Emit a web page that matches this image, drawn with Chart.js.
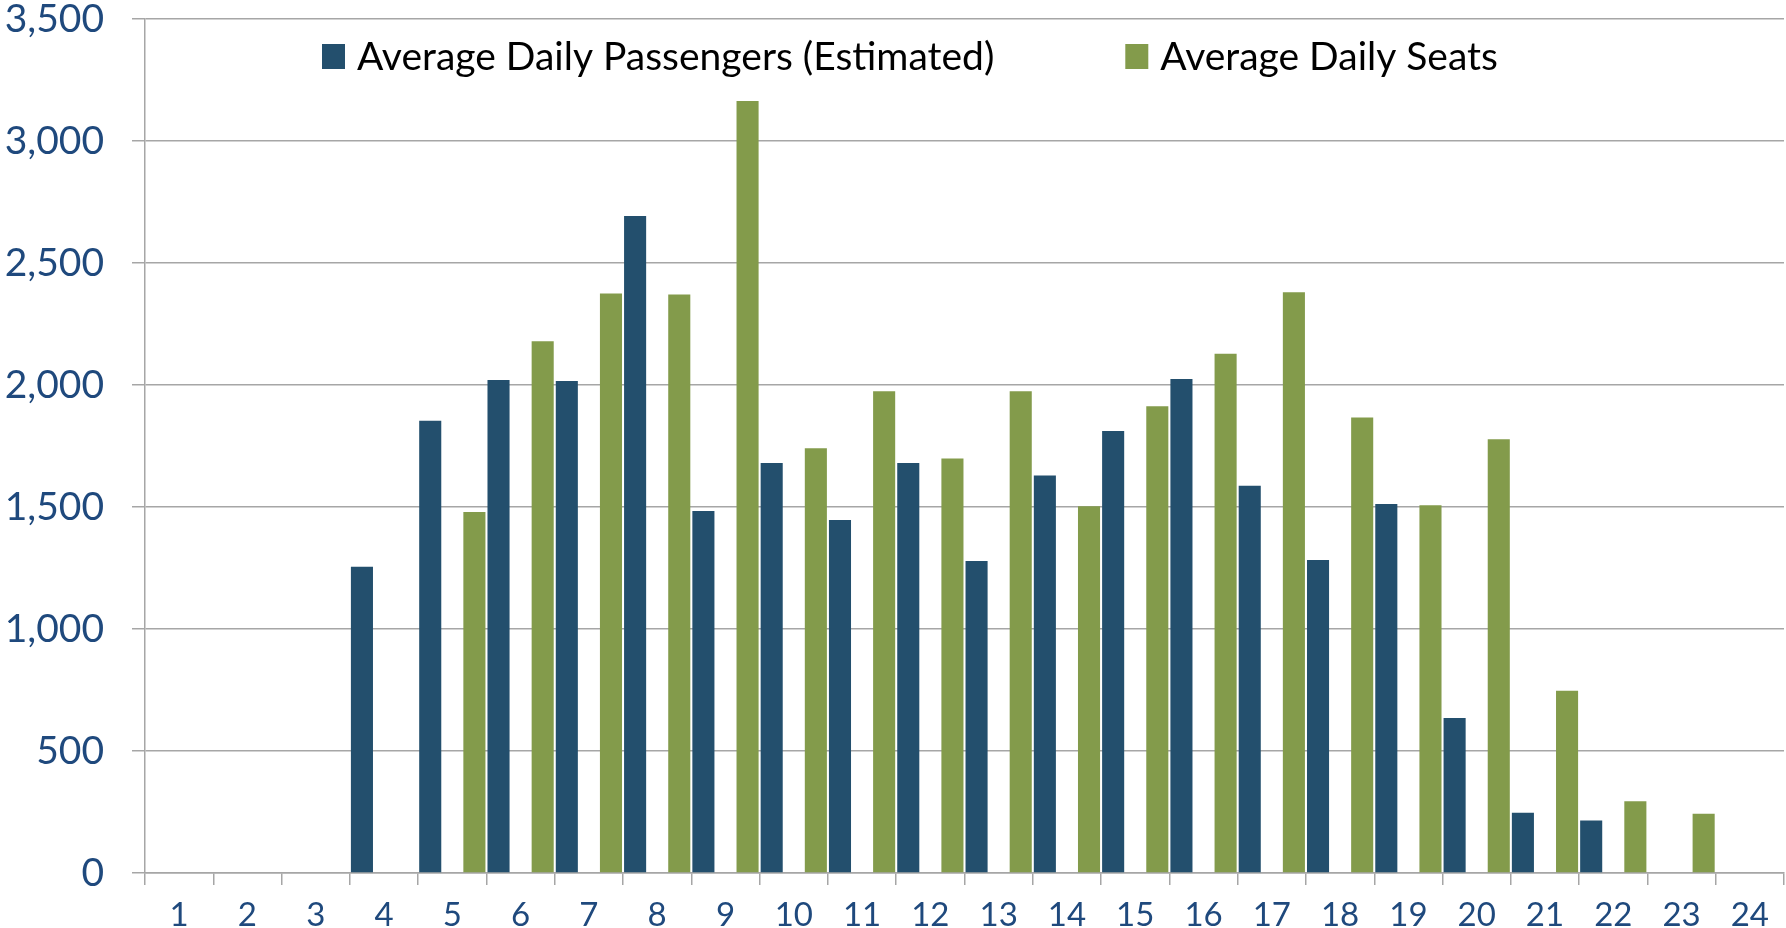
<!DOCTYPE html>
<html>
<head>
<meta charset="utf-8">
<script src="https://cdn.jsdelivr.net/npm/chart.js@4"></script>
<style>
  html, body { margin: 0; padding: 0; background: #fff; }
  #wrap { width: 1786px; height: 928px; position: relative; }
</style>
</head>
<body>
<div id="wrap"><canvas id="hourChart"></canvas></div>
<script>
const hours = ['1','2','3','4','5','6','7','8','9','10','11','12','13','14','15','16','17','18','19','20','21','22','23','24'];
const passengers = [null, null, null, 1255, 1853, 2021, 2016, 2693, 1484, 1680, 1447, 1680, 1279, 1629, 1811, 2025, 1587, 1283, 1512, 635, 247, 215, null, null];
const seats = [null, null, null, null, 1479, 2179, 2375, 2371, 3164, 1741, 1974, 1699, 1974, 1503, 1913, 2128, 2380, 1867, 1507, 1778, 747, 294, 243, null];
const yTicks = [0, 500, 1000, 1500, 2000, 2500, 3000, 3500];

const BLUE = '#234f6d';
const GREEN = '#839b4b';
const AXIS_BLUE = '#1f497d';
const GRID = '#a6a6a6';
const FONT = 'Lato, Calibri, "Open Sans", sans-serif';

// legend drawn inside the plot, a bit left of centre like the original
const insideLegend = {
    id: 'insideLegend',
    afterDraw(chart) {
        const ctx = chart.ctx;
        const area = chart.chartArea;
        let x = area.left + 177;
        const cy = area.top + 37;
        ctx.save();
        ctx.font = '39px ' + FONT;
        ctx.textBaseline = 'middle';
        chart.data.datasets.forEach(ds => {
            if (!ds.label) return;
            ctx.fillStyle = ds.backgroundColor;
            ctx.fillRect(x, cy - 12, 23, 25);
            ctx.fillStyle = '#000';
            ctx.fillText(ds.label, x + 35, cy + 1);
            x += 35 + ctx.measureText(ds.label).width + 131;
        });
        ctx.restore();
    }
};

const ctx = document.getElementById('hourChart');
new Chart(ctx, {
    type: 'bar',
    data: {
        labels: hours,
        datasets: [{
            label: 'Average Daily Passengers (Estimated)',
            data: passengers,
            backgroundColor: BLUE
        }, {
            // empty middle slot, keeps the gap between the two bars
            label: '',
            data: [],
            backgroundColor: 'rgba(0,0,0,0)'
        }, {
            label: 'Average Daily Seats',
            data: seats,
            backgroundColor: GREEN
        }]
    },
    options: {
        responsive: true,
        maintainAspectRatio: false,
        animation: false,
        layout: { padding: { left: 0, right: 2, top: 0, bottom: 0 } },
        datasets: {
            bar: { categoryPercentage: 0.97, barPercentage: 1.0 }
        },
        plugins: {
            legend: { display: false },
            tooltip: { enabled: false }
        },
        scales: {
            x: {
                afterFit: s => { s.height = 55; s.paddingLeft = 0; s.paddingRight = 0; },
                grid: {
                    offset: true,
                    drawOnChartArea: false,
                    drawTicks: true,
                    tickLength: 12,
                    color: GRID,
                    lineWidth: 1.5
                },
                border: { color: GRID, width: 1.5 },
                ticks: {
                    color: AXIS_BLUE,
                    font: { family: FONT, size: 33, lineHeight: 1 },
                    padding: 14,
                    maxRotation: 0,
                    autoSkip: false
                }
            },
            y: {
                min: 0,
                max: 3500,
                afterBuildTicks: axis => { axis.ticks = yTicks.map(v => ({ value: v })); },
                afterFit: s => { s.width = 145; s.paddingTop = 19; s.paddingBottom = 0; },
                grid: {
                    color: GRID,
                    lineWidth: 1.5,
                    tickLength: 13
                },
                border: { color: GRID, width: 1.5 },
                ticks: {
                    color: AXIS_BLUE,
                    font: { family: FONT, size: 39 },
                    padding: 28,
                    callback: v => v.toLocaleString('en-US')
                }
            }
        }
    },
    plugins: [insideLegend]
});
</script>
</body>
</html>
